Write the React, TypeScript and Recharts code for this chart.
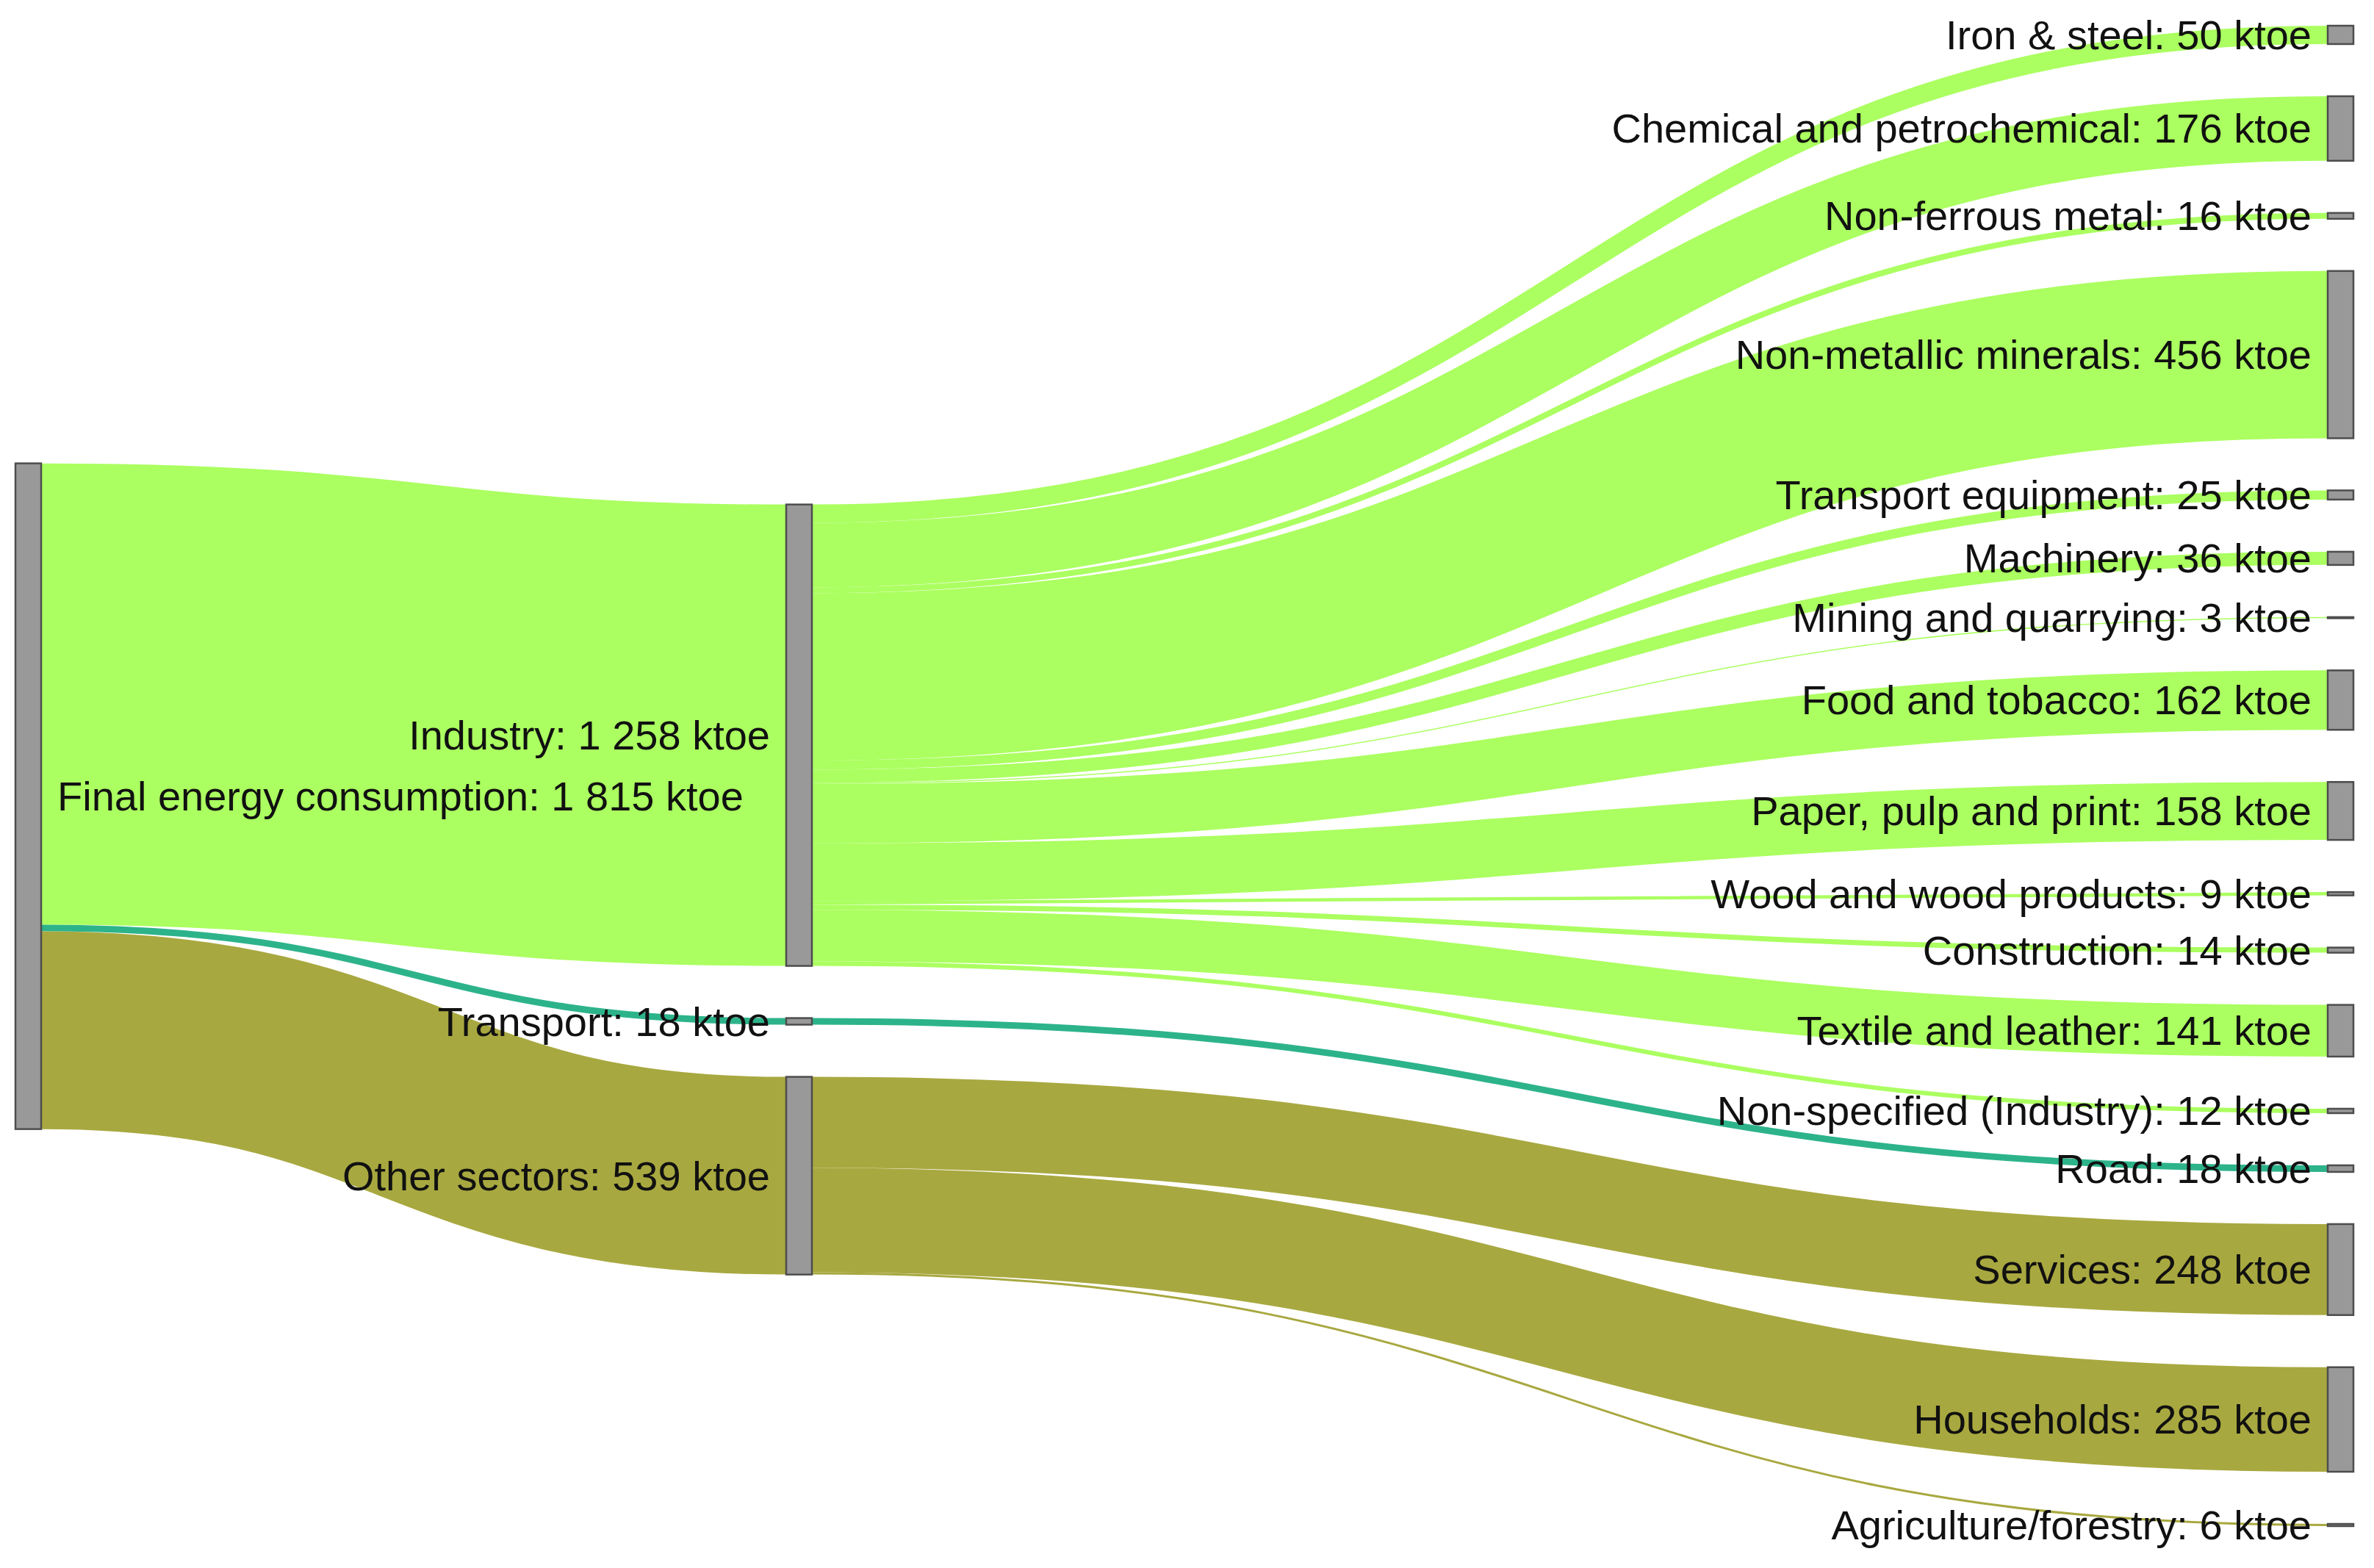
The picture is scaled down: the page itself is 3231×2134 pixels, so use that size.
import React from "react";
import { Sankey } from "recharts";

// ---- data (ktoe) ----
const SOURCE = "Final energy consumption";

const SECTORS = ["Industry", "Transport", "Other sectors"];
const SECTOR_VALUES = [1258, 18, 539];

const INDUSTRY_BRANCHES = [
  "Iron & steel",
  "Chemical and petrochemical",
  "Non-ferrous metal",
  "Non-metallic minerals",
  "Transport equipment",
  "Machinery",
  "Mining and quarrying",
  "Food and tobacco",
  "Paper, pulp and print",
  "Wood and wood products",
  "Construction",
  "Textile and leather",
  "Non-specified (Industry)",
];
const INDUSTRY_VALUES = [50, 176, 16, 456, 25, 36, 3, 162, 158, 9, 14, 141, 12];

const TRANSPORT_BRANCHES = ["Road"];
const TRANSPORT_VALUES = [18];

const OTHER_BRANCHES = ["Services", "Households", "Agriculture/forestry"];
const OTHER_VALUES = [248, 285, 6];

// invisible helper node: gives the layout a 4th column so the sectors sit at 1/3
const GHOST = "__ghost__";
const GHOST_FLOW = 0.0001;

const SECTOR_COLORS: Record<string, string> = {
  Industry: "#abff60",
  Transport: "#2db38a",
  "Other sectors": "#a8a840",
};

const FONT = "'Liberation Sans', Arial, sans-serif";

// ---- build nodes / links ----
const nodeNames = [
  SOURCE,
  ...SECTORS,
  GHOST,
  ...INDUSTRY_BRANCHES,
  ...TRANSPORT_BRANCHES,
  ...OTHER_BRANCHES,
];
const idx = (name: string) => nodeNames.indexOf(name);

const nodes = nodeNames.map((name) => ({ name, ghost: name === GHOST }));

const links = [
  ...SECTORS.map((s, i) => ({ source: idx(SOURCE), target: idx(s), value: SECTOR_VALUES[i] })),
  ...INDUSTRY_BRANCHES.map((b, i) => ({ source: idx("Industry"), target: idx(b), value: INDUSTRY_VALUES[i] })),
  ...TRANSPORT_BRANCHES.map((b, i) => ({ source: idx("Transport"), target: idx(b), value: TRANSPORT_VALUES[i] })),
  ...OTHER_BRANCHES.map((b, i) => ({ source: idx("Other sectors"), target: idx(b), value: OTHER_VALUES[i] })),
  { source: idx("Industry"), target: idx(GHOST), value: GHOST_FLOW },
  { source: idx(GHOST), target: idx("Non-specified (Industry)"), value: GHOST_FLOW },
];

const fmt = (v: number) =>
  Math.round(v)
    .toString()
    .replace(/\B(?=(\d{3})+(?!\d))/g, " ");

function SectorNode(props: any) {
  const { x, y, width, height, payload } = props;
  if (payload.ghost) return <g />;
  const isSource = payload.depth === 0;
  return (
    <g>
      <rect x={x} y={y} width={width} height={height} fill="#999999" stroke="#4d4d4d" strokeWidth={2.5} />
      <text
        x={isSource ? x + width + 22 : x - 22}
        y={y + height / 2}
        textAnchor={isSource ? "start" : "end"}
        dominantBaseline="central"
        fontSize={56}
        fontFamily={FONT}
        fill="#111"
      >
        {`${payload.name}: ${fmt(payload.value)} ktoe`}
      </text>
    </g>
  );
}

function FlowLink(props: any) {
  const { sourceX, sourceY, sourceControlX, targetX, targetY, targetControlX, linkWidth, payload } = props;
  const src = payload.source;
  const tgt = payload.target;
  if (src.ghost || tgt.ghost) return <g />;
  const sector = src.depth === 0 ? tgt.name : src.name;
  return (
    <path
      d={`M${sourceX},${sourceY}C${sourceControlX},${sourceY} ${targetControlX},${targetY} ${targetX},${targetY}`}
      fill="none"
      stroke={SECTOR_COLORS[sector]}
      strokeWidth={linkWidth}
    />
  );
}

export default function App() {
  return (
    <div style={{ width: 3231, height: 2134, background: "#fff" }}>
      <style>{"body{margin:0}"}</style>
      <Sankey
        width={3231}
        height={2134}
        data={{ nodes, links }}
        node={<SectorNode />}
        link={<FlowLink />}
        nodeWidth={35}
        nodePadding={71}
        sort={false}
        margin={{ top: 35, right: 28, bottom: 57, left: 21 }}
      />
    </div>
  );
}
